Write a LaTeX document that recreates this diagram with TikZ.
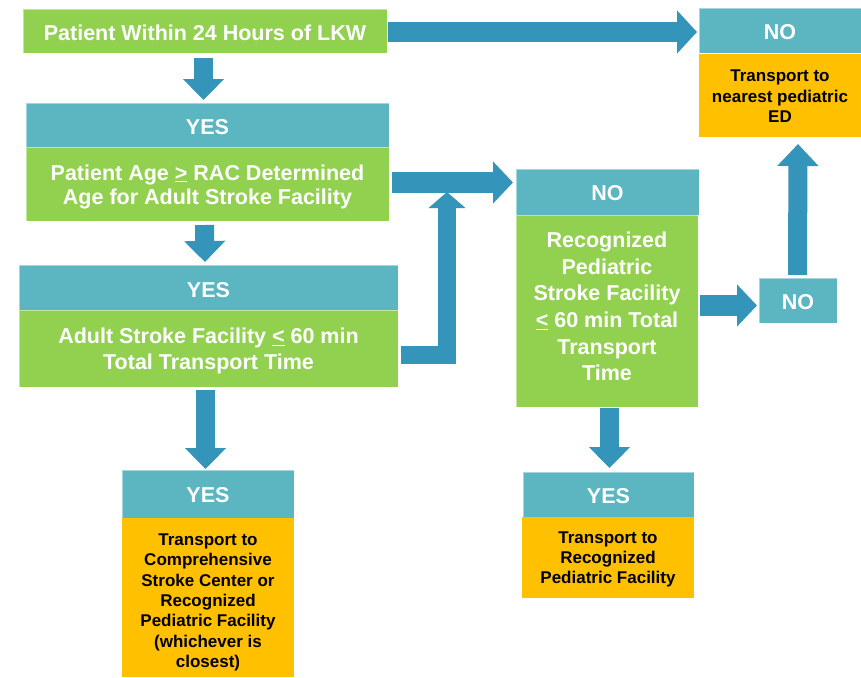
\documentclass[tikz,border=0pt]{standalone}
\usepackage{fontspec}
\setmainfont{Liberation Sans}
\usetikzlibrary{arrows.meta,calc}
\definecolor{cgreen}{HTML}{92D050}
\definecolor{cteal}{HTML}{5BB6C1}
\definecolor{cblue}{HTML}{3594BA}
\definecolor{corange}{HTML}{FFC000}
\begin{document}
\begin{tikzpicture}[x=1pt,y=-1pt,
  box/.style={rectangle, inner sep=0pt, outer sep=0pt},
  greenbox/.style={box, fill=cgreen, draw=white, draw opacity=0.45, line width=0.8pt},
  tealbox/.style={box, fill=cteal, draw=white, draw opacity=0.45, line width=0.8pt},
  orangebox/.style={box, fill=corange},
  sz/.style 2 args={minimum width=#1pt, minimum height=#2pt},
  wtext/.style={inner sep=0pt, align=center, text=white,
    font=\fontsize{21.5}{24}\selectfont\bfseries},
  btext/.style={inner sep=0pt, align=center, text=black,
    font=\fontsize{17}{20.4}\selectfont\bfseries},
  blockarrow/.style={draw=cblue, line width=19pt, line join=miter,
    -{Triangle[width=40pt,length=21pt]}},
  smallarrow/.style={draw=cblue, line width=18pt, line join=miter,
    -{Triangle[width=36pt,length=16pt]}}
]
\useasboundingbox[fill=white] (0,0) rectangle (861,677);

% boxes
\node[greenbox, sz={364}{44}] (b1) at (205,31) {};
\node[wtext] (b1t) at ($(b1.center)+(0,2)$) {Patient Within 24 Hours of LKW};

\node[tealbox, sz={363}{44}] (h2) at (207.5,125) {};
\node[wtext] (h2t) at ($(h2.center)+(0,2.5)$) {YES};
\node[greenbox, sz={363}{74}] (g2) at (207.5,184) {};
\node[wtext] (g2t) at ($(g2.center)+(0,2.5)$)
  {Patient Age \underline{>} RAC Determined\\Age for Adult Stroke Facility};

\node[tealbox, sz={379}{45}] (h3) at (208.5,287.5) {};
\node[wtext] (h3t) at ($(h3.center)+(0,2.5)$) {YES};
\node[greenbox, sz={379}{77}] (g3) at (208.5,348.5) {};
\node[wtext, font=\fontsize{21.5}{26.5}\selectfont\bfseries] (g3t) at ($(g3.center)+(0,2.5)$)
  {Adult Stroke Facility \underline{<} 60 min\\Total Transport Time};

\node[tealbox, sz={172}{48}] (h4) at (208,494) {};
\node[wtext] (h4t) at ($(h4.center)+(0,1)$) {YES};
\node[orangebox, sz={172}{159}] (o4) at (208,597.5) {};
\node[btext] (o4t) at ($(o4.center)+(0,5)$)
  {Transport to\\Comprehensive\\Stroke Center or\\Recognized\\Pediatric Facility\\(whichever is\\closest)};

\node[tealbox, sz={162}{45}] (hNO1) at (780,30.5) {};
\node[wtext] (hNO1t) at ($(hNO1.center)+(0,1.5)$) {NO};
\node[orangebox, sz={162}{83}] (oNO1) at (780,95.5) {};
\node[btext] (oNO1t) at ($(oNO1.center)+(0,1)$)
  {Transport to\\nearest pediatric\\ED};

\node[tealbox, sz={183}{46}] (hNO2) at (607.5,192) {};
\node[wtext] (hNO2t) at ($(hNO2.center)+(0,1)$) {NO};
\node[greenbox, sz={182}{192}] (gNO2) at (607,311) {};
\node[wtext, font=\fontsize{21.5}{26.6}\selectfont\bfseries] (gNO2t) at ($(gNO2.center)+(0,-4.5)$)
  {Recognized\\Pediatric\\Stroke Facility\\\underline{<} 60 min Total\\Transport\\Time};

\node[tealbox, sz={78}{45}] (nNO3) at (798,300.5) {};
\node[wtext] (nNO3t) at ($(nNO3.center)+(0,2)$) {NO};

\node[tealbox, sz={171}{45}] (h5) at (608.5,494.5) {};
\node[wtext] (h5t) at ($(h5.center)+(0,2)$) {YES};
\node[orangebox, sz={172}{81}] (o5) at (608,557.5) {};
\node[btext] (o5t) at ($(o5.center)+(0,2)$)
  {Transport to\\Recognized\\Pediatric Facility};

% connectors (block arrows)
\draw[blockarrow] ($(b1.south)+(-1.5,5)$) -- ($(h2.north)+(-4,-3)$);
\draw[blockarrow, line width=20pt, -{Triangle[width=42pt,length=20pt]}]
  ($(b1.east)+(1,1)$) -- ($(hNO1.west)+(-2,1.5)$);
\draw[blockarrow, line width=21pt, -{Triangle[width=41pt,length=20pt]}]
  ($(g2.east)+(3,-1.5)$) coordinate (a3s) -- ($(hNO2.west)+(-3,-9.5)$);
\coordinate (join) at ($(a3s)+(55,9.5)$);
\draw[blockarrow] ($(g2.south)+(-3,4)$) -- ($(h3.north)+(-3.5,-3)$);
\draw[smallarrow] ($(g3.east)+(3,6.5)$) -| (join);
\draw[blockarrow] ($(g3.south)+(-3,3)$) -- ($(h4.north)+(-2.5,-1)$);
\draw[blockarrow] ($(gNO2.south)+(2.5,1)$) -- ($(h5.north)+(1,-4)$);
\draw[blockarrow, line width=21pt, -{Triangle[width=41pt,length=20pt]}]
  ($(gNO2.east)+(2,-5.5)$) -- ($(nNO3.west)+(-2,5)$);
\draw[blockarrow, -{Triangle[width=40pt,length=22pt]}]
  ($(nNO3.north)+(-0.5,-3)$) -- ($(oNO1.south)+(18,7)$);
\end{tikzpicture}
\end{document}
